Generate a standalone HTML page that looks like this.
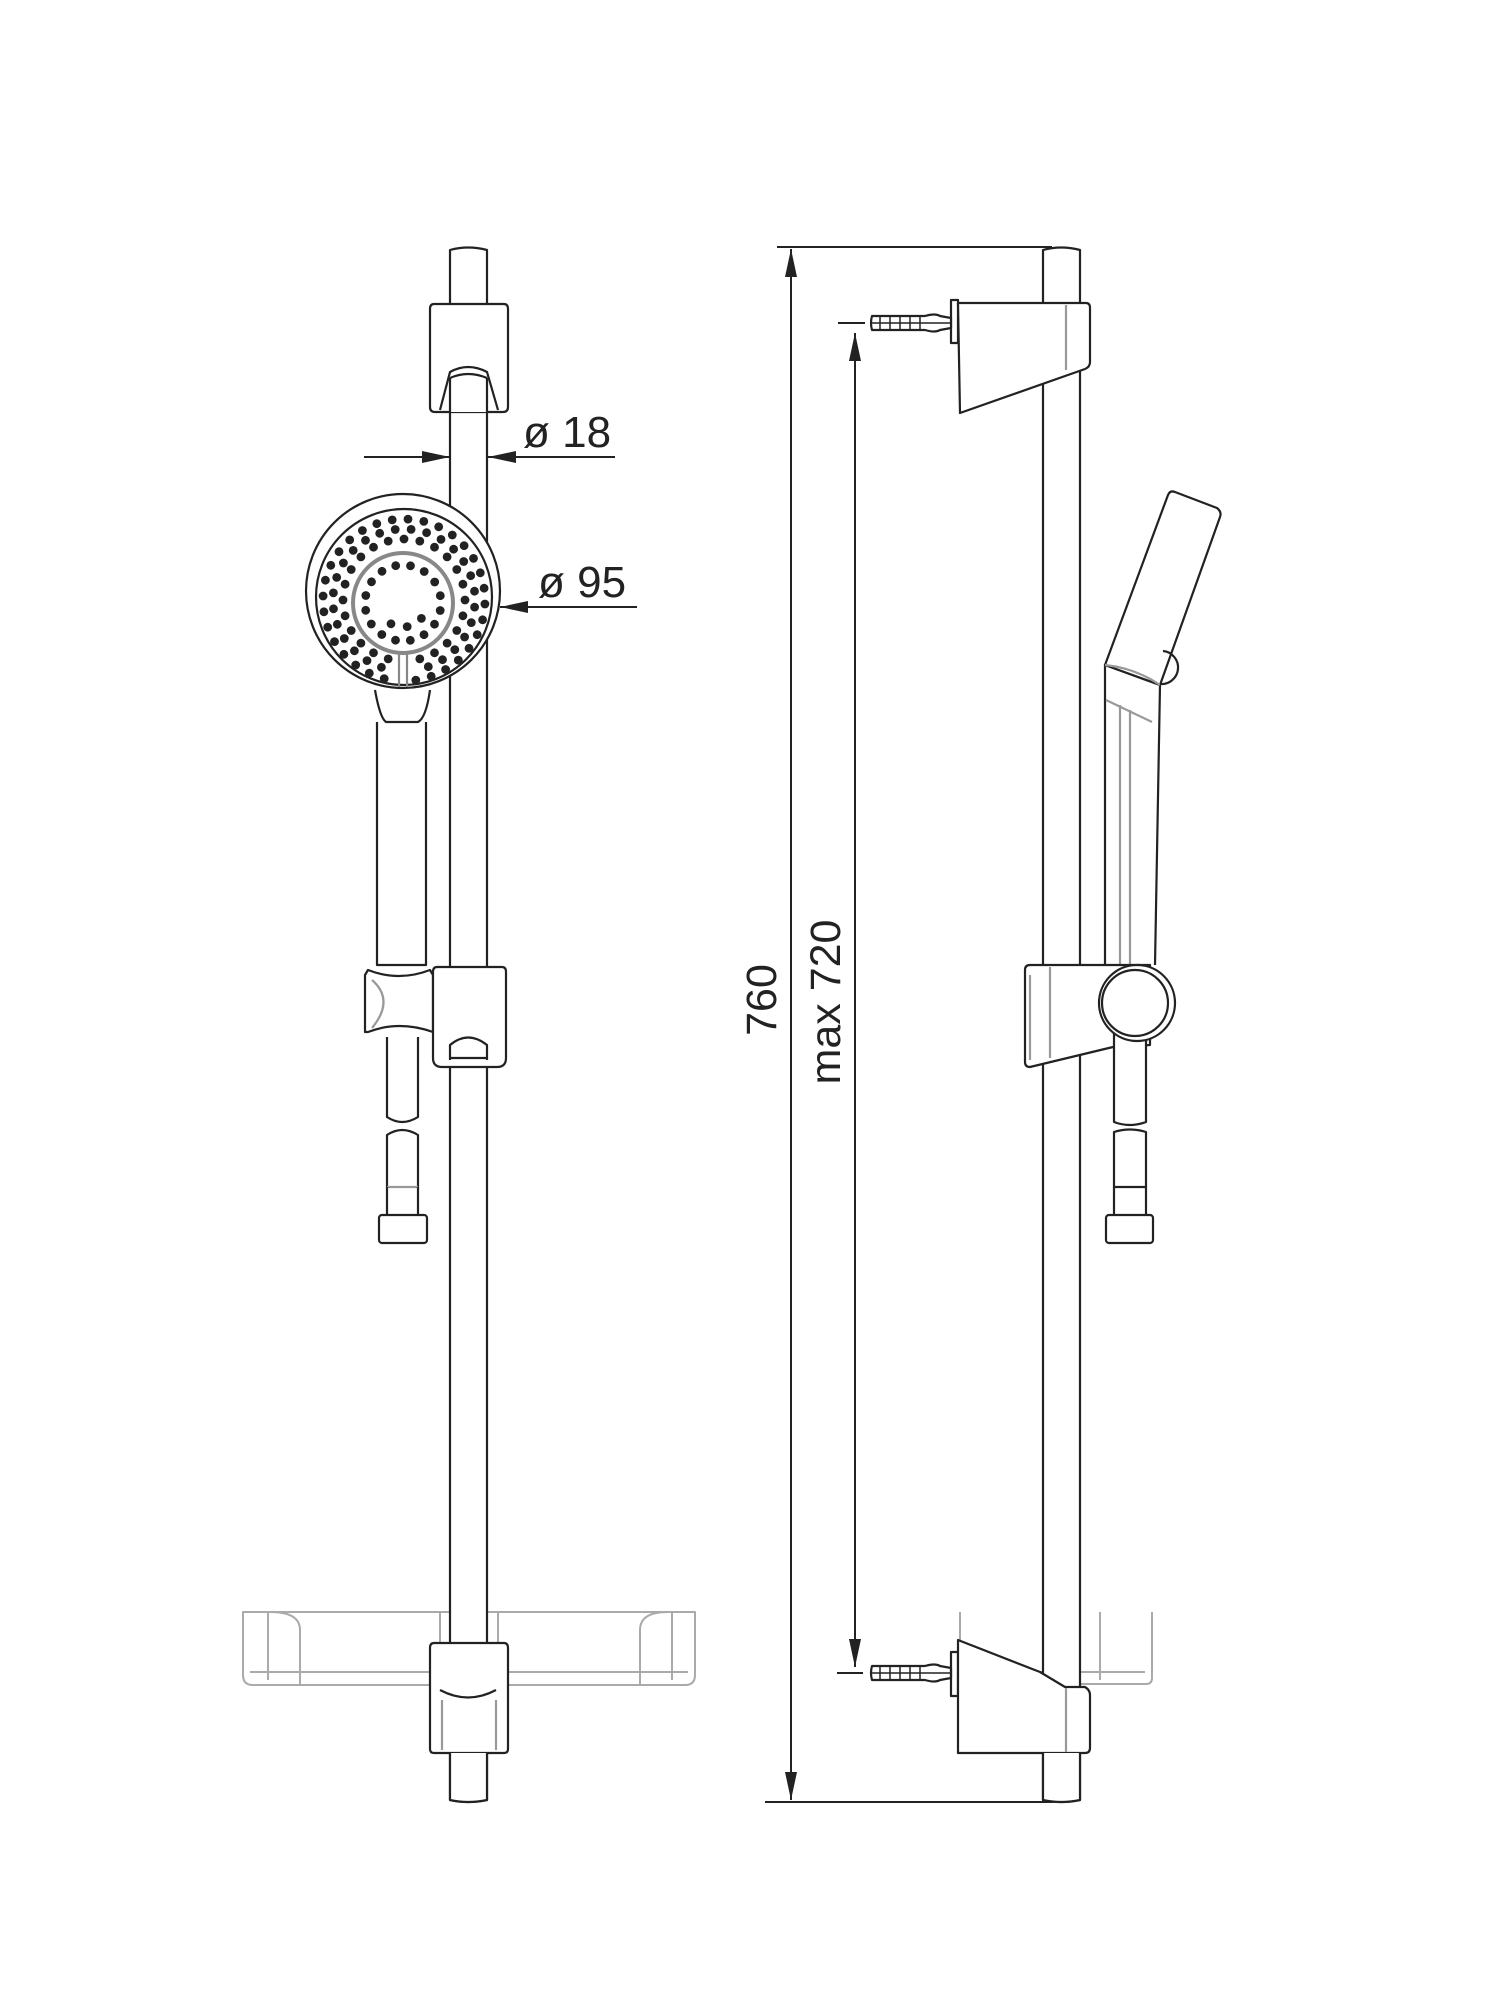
<!DOCTYPE html>
<html><head><meta charset="utf-8"><style>
html,body{margin:0;padding:0;background:#fff;}
svg{display:block;}
text{font-family:"Liberation Sans",sans-serif;fill:#222;}
</style></head><body>
<svg id="s" width="1500" height="2000" viewBox="0 0 1500 2000" xmlns="http://www.w3.org/2000/svg">
<defs>
<marker id="ar" viewBox="0 0 28 12" refX="28" refY="6" markerWidth="28" markerHeight="12" markerUnits="userSpaceOnUse" orient="auto-start-reverse">
<path d="M0,0 L28,6 L0,12 z" fill="#222"/></marker>
</defs>
<g fill="none" stroke="#222" stroke-width="2.2" stroke-linejoin="round">

<g stroke="#aaa" stroke-width="2">
<path d="M243,1612 L243,1675 Q243,1685 253,1685 L685,1685 Q695,1685 695,1675 L695,1612 Z"/>
<line x1="250" y1="1672" x2="688" y2="1672"/>
<line x1="268" y1="1612" x2="268" y2="1680"/>
<path d="M270,1612 Q300,1612 300,1630 L300,1685"/>
<path d="M668,1612 Q640,1612 640,1630 L640,1685"/>
<line x1="672" y1="1612" x2="672" y2="1680"/>
<rect x="440" y="1612" width="58" height="70"/>
<rect x="455" y="1615" width="30" height="60"/>
</g>
<path d="M450,1800 L450,250 Q468,245 487,250 L487,1800 Q468,1804 450,1800 Z" fill="#fff"/>
<path d="M434,304 L504,304 Q508,304 508,309 L508,407 Q508,412 503,412 L435,412 Q430,412 430,407 L430,309 Q430,304 434,304 Z" fill="#fff"/>
<path d="M440,410 L450,372 Q468,362 487,372 L498,410" />
<path d="M450,380 Q468,372 487,380 L487,412 L450,412 Z" fill="#fff" stroke="none"/>
<line x1="450" y1="378" x2="450" y2="412"/><line x1="487" y1="378" x2="487" y2="412"/>
<path d="M450,378 Q468,370 487,378"/>
<path d="M377,722 L377,965 L426,965 L426,722" fill="#fff"/>
<path d="M375,690 Q380,718 386,722 L418,722 Q426,718 430,690"/>
<circle cx="403" cy="591" r="97" fill="#fff"/>
<circle cx="404" cy="597" r="88"/>
<circle cx="403" cy="603" r="50" stroke="#888" stroke-width="4"/>
<line x1="399" y1="652" x2="399" y2="687" stroke="#888"/>
<line x1="407" y1="652" x2="407" y2="687" stroke="#888"/>
<g id="dots" fill="#222" stroke="none"></g>
<path d="M368,970 Q399,982 430,970 L433,975 L433,1032 Q399,1020 368,1032 L365,1032 L365,975 Z" fill="#fff"/>
<path d="M372,980 Q395,1000 372,1028" stroke="#999"/>
<path d="M437,967 L502,967 Q506,967 506,972 L506,1058 Q506,1067 497,1067 L442,1067 Q433,1067 433,1058 L433,972 Q433,967 437,967 Z" fill="#fff"/>
<path d="M450,1060 L450,1045 Q468,1030 487,1045 L487,1060"/>
<line x1="450" y1="1058" x2="487" y2="1058"/>
<path d="M387,1037 L387,1117 Q402,1127 418,1117 L418,1037"/>
<path d="M387,1187 L387,1135 Q402,1125 418,1135 L418,1187"/>
<line x1="387" y1="1187" x2="418" y2="1187" stroke="#999"/>
<rect x="379" y="1215" width="48" height="28" rx="3"/>
<line x1="387" y1="1187" x2="387" y2="1215"/><line x1="418" y1="1187" x2="418" y2="1215"/>
<path d="M434,1643 L504,1643 Q508,1643 508,1648 L508,1749 Q508,1753 504,1753 L434,1753 Q430,1753 430,1749 L430,1648 Q430,1643 434,1643 Z" fill="#fff"/>
<path d="M440,1690 Q468,1705 496,1690"/>
<line x1="442" y1="1700" x2="442" y2="1750" stroke="#999"/><line x1="496" y1="1700" x2="496" y2="1750" stroke="#999"/>
<path d="M450,1753 L450,1800 Q468,1804 487,1800 L487,1753" fill="#fff"/>

<line x1="364" y1="457" x2="450" y2="457" marker-end="url(#ar)" stroke-width="2"/>
<line x1="615" y1="457" x2="488" y2="457" marker-end="url(#ar)" stroke-width="2"/>
<line x1="637" y1="607" x2="500" y2="607" marker-end="url(#ar)" stroke-width="2"/>

<line x1="777" y1="247" x2="1052" y2="247" stroke-width="2"/>
<line x1="765" y1="1802" x2="1053" y2="1802" stroke-width="2"/>
<line x1="791" y1="1000" x2="791" y2="249" marker-end="url(#ar)" stroke-width="2"/>
<line x1="791" y1="1000" x2="791" y2="1800" marker-end="url(#ar)" stroke-width="2"/>
<line x1="838" y1="323" x2="865" y2="323" stroke-width="2"/>
<line x1="837" y1="1673" x2="863" y2="1673" stroke-width="2"/>
<line x1="855" y1="1000" x2="855" y2="333" marker-end="url(#ar)" stroke-width="2"/>
<line x1="855" y1="1000" x2="855" y2="1667" marker-end="url(#ar)" stroke-width="2"/>

<g stroke="#aaa" stroke-width="2">
<path d="M960,1612 L960,1678 Q960,1684 966,1684 L1146,1684 Q1152,1684 1152,1678 L1152,1612"/>
<line x1="968" y1="1672" x2="1145" y2="1672"/>
<rect x="1048" y="1612" width="30" height="70"/>
<line x1="1100" y1="1612" x2="1100" y2="1680"/>
</g>
<path d="M1043,1800 L1043,250 Q1061,245 1080,250 L1080,1800 Q1061,1804 1043,1800 Z" fill="#fff"/>
<rect x="951" y="300" width="7" height="43"/>
<path d="M958,303 L1086,303 Q1090,303 1090,308 L1090,362 Q1090,367 1085,369 L960,413 Z" fill="#fff"/>
<line x1="1066" y1="305" x2="1066" y2="370" stroke="#999"/>
<g><path d="M872,316 Q870,323 872,330 L925,330 Q935,333 940,330 L951,328 L951,318 L940,316 Q935,313 925,316 Z" fill="#fff"/>
<path d="M880,316 v14 M890,316 v14 M900,316 v14 M910,316 v14 M920,316 v14" stroke-width="1.5"/>
<line x1="872" y1="323" x2="950" y2="323" stroke-width="1.5"/></g>
<g transform="translate(0,1350)">
<path d="M872,316 Q870,323 872,330 L925,330 Q935,333 940,330 L951,328 L951,318 L940,316 Q935,313 925,316 Z" fill="#fff"/>
<path d="M880,316 v14 M890,316 v14 M900,316 v14 M910,316 v14 M920,316 v14" stroke-width="1.5"/>
<line x1="872" y1="323" x2="950" y2="323" stroke-width="1.5"/></g>
<rect x="951" y="1652" width="7" height="44"/>
<path d="M958,1640 L1040,1672 L1065,1687 L1085,1687 Q1090,1690 1090,1695 L1090,1748 Q1090,1753 1085,1753 L958,1753 Z" fill="#fff"/>
<line x1="1066" y1="1688" x2="1066" y2="1752" stroke="#999"/>
<path d="M1043,1753 L1043,1800 Q1061,1804 1080,1800 L1080,1753" fill="#fff"/>
<path d="M1105,965 L1105,665 L1160,685 L1155,965" fill="#fff"/>
<path d="M1105,665 L1168,495 Q1170,490 1175,492 L1217,508 Q1222,512 1220,517 L1160,685 Z" fill="#fff"/>
<path d="M1105,665 Q1135,668 1160,685" stroke="#999"/>
<path d="M1106,700 L1152,722" stroke="#999"/>
<line x1="1120" y1="705" x2="1120" y2="965" stroke="#999"/>
<line x1="1130" y1="710" x2="1130" y2="965" stroke="#999"/>
<path d="M1163,651 A14,14 0 0 1 1160,684"/>
<path d="M1030,965 L1150,965 L1150,1045 L1113,1047 L1030,1067 Q1025,1067 1025,1062 L1025,970 Q1025,965 1030,965 Z" fill="#fff"/>
<line x1="1050" y1="967" x2="1050" y2="1058" stroke="#999"/>
<line x1="1030" y1="975" x2="1030" y2="1060" stroke="#999"/>
<path d="M1114,1030 L1114,1122 Q1130,1128 1146,1122 L1146,1030" fill="#fff"/>
<circle cx="1137" cy="1003" r="38" fill="#fff"/>
<circle cx="1135" cy="1003" r="33"/>
<path d="M1114,1132 Q1130,1127 1146,1132 L1146,1187 L1114,1187 Z"/>
<rect x="1106" y="1215" width="47" height="28" rx="3"/>
<line x1="1114" y1="1187" x2="1114" y2="1215"/><line x1="1146" y1="1187" x2="1146" y2="1215"/>
</g>

<text x="523" y="447" font-size="44">ø 18</text>
<text x="538" y="597" font-size="44">ø 95</text>
<text transform="translate(776,1000) rotate(-90)" text-anchor="middle" font-size="43">760</text>
<text transform="translate(840,1002) rotate(-90)" text-anchor="middle" font-size="43">max 720</text>
</svg>
<script>
(function(){
var g=document.getElementById('dots'),ns='http://www.w3.org/2000/svg';
function dot(x,y){var c=document.createElementNS(ns,'circle');c.setAttribute('cx',x.toFixed(1));c.setAttribute('cy',y.toFixed(1));c.setAttribute('r','4.4');g.appendChild(c);}
var cx=404,cy=600;
[[61,24,0],[71,28,0.1],[81,32,0.05]].forEach(function(r){
 for(var i=0;i<r[1];i++){
  var a=(i/r[1])*Math.PI*2+r[2];
  var x=cx+r[0]*Math.cos(a),y=cy+r[0]*Math.sin(a);
  if(Math.abs(x-403)<12&&y>cy+40)continue;
  dot(x,y);
 }
});
[[24,9,0],[38,16,0.2]].forEach(function(r){
 for(var i=0;i<r[1];i++){
  var a=(i/r[1])*Math.PI*2+r[2];
  var x=403+r[0]*Math.cos(a),y=603+r[0]*Math.sin(a);
  if(r[0]==24&&y<612)continue;
  dot(x,y);
 }
});
})();
</script>
</body></html>
